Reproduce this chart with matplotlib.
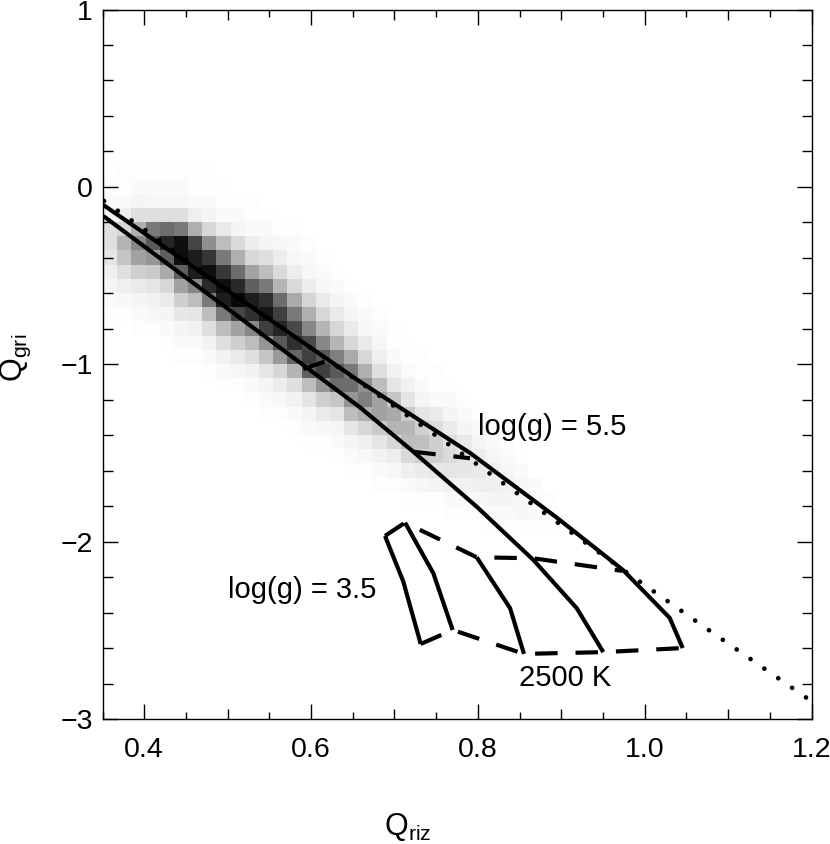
import numpy as np
import matplotlib
matplotlib.use("Agg")
import matplotlib.pyplot as plt

plt.rcParams['font.family'] = ['Liberation Sans', 'DejaVu Sans']
plt.rcParams['mathtext.fontset'] = 'custom'
plt.rcParams['mathtext.rm'] = 'Liberation Sans'

# --- data ---
GRID_SIZE = 50
# density (percent darkness) per column of the 50x50 grid: first row (from top), then values
density_start = [12, 11, 11, 11, 11, 11, 11, 11, 12, 13, 13, 14, 15, 15, 16, 17, 18,
                 19, 20, 21, 22, 23, 24, 25, 26, 27, 28, 29, 30, 31, 33, 34]
density_cols = [
    [1, 2, 4, 12, 12, 10, 6, 4, 2, 1],
    [1, 1, 2, 6, 15, 28, 22, 12, 6, 3, 1],
    [1, 2, 4, 12, 30, 45, 35, 18, 8, 4, 2, 1],
    [1, 2, 3, 12, 50, 62, 40, 20, 10, 5, 3, 1],
    [1, 2, 3, 12, 55, 82, 60, 32, 15, 8, 4, 2, 1],
    [1, 2, 3, 12, 50, 90, 90, 60, 35, 18, 9, 4, 2, 1],
    [1, 1, 2, 6, 30, 70, 85, 85, 45, 25, 10, 5, 2, 1],
    [1, 1, 2, 4, 15, 42, 75, 90, 80, 50, 25, 12, 5, 2, 1],
    [1, 1, 2, 8, 25, 50, 75, 90, 85, 50, 25, 12, 5, 2, 1],
    [1, 2, 4, 14, 30, 55, 80, 92, 70, 35, 18, 8, 3, 1],
    [1, 1, 2, 7, 15, 35, 60, 85, 78, 45, 25, 12, 5, 2, 1],
    [1, 2, 4, 12, 25, 50, 78, 88, 72, 40, 22, 10, 4, 2, 1],
    [1, 3, 7, 14, 28, 55, 72, 82, 62, 38, 15, 7, 3, 1],
    [1, 2, 3, 7, 14, 32, 50, 68, 78, 58, 28, 12, 5, 2, 1],
    [1, 2, 3, 7, 16, 30, 45, 68, 72, 60, 25, 10, 4, 2, 1],
    [1, 2, 3, 8, 15, 28, 45, 62, 72, 40, 18, 8, 3, 1],
    [1, 2, 4, 8, 15, 28, 48, 62, 55, 22, 10, 4, 2, 1],
    [1, 2, 4, 8, 15, 32, 50, 55, 40, 25, 10, 4, 2, 1],
    [1, 2, 3, 8, 15, 30, 42, 48, 30, 15, 6, 3, 1],
    [1, 2, 3, 6, 12, 25, 35, 35, 20, 10, 5, 2, 1],
    [1, 1, 2, 5, 10, 22, 32, 28, 15, 7, 3, 1],
    [1, 1, 2, 5, 10, 20, 28, 25, 14, 6, 2, 1],
    [1, 1, 2, 4, 10, 18, 24, 18, 8, 3, 1],
    [1, 1, 2, 8, 13, 18, 18, 9, 4, 1],
    [1, 2, 4, 8, 12, 14, 10, 5, 2, 1],
    [1, 2, 4, 8, 10, 9, 5, 2, 1],
    [1, 2, 4, 7, 8, 6, 3, 1],
    [1, 2, 4, 6, 6, 4, 2, 1],
    [1, 2, 3, 5, 4, 2, 1],
    [1, 2, 3, 3, 3, 1],
    [2, 2, 2, 1],
    [1, 1, 1],
]

# solid tracks (constant temperature)
track1_x = [0.351, 0.6587, 0.7906, 0.895, 0.974, 1.030, 1.0456]
track1_y = [-0.102, -1.098, -1.50, -1.866, -2.16, -2.43, -2.60]
track2_x = [0.351, 0.6587, 0.7226, 0.7986, 0.8665, 0.9185, 0.9504]
track2_y = [-0.164, -1.243, -1.493, -1.803, -2.103, -2.375, -2.623]
track3_x = [0.7986, 0.8386, 0.8553]
track3_y = [-2.088, -2.375, -2.633]
track4_x = [0.7127, 0.7466, 0.7698]
track4_y = [-1.893, -2.178, -2.498]
track5_x = [0.6887, 0.7106, 0.7315]
track5_y = [-1.968, -2.225, -2.577]

# dashed connectors
dash1_x = [0.6887, 0.7127, 0.7986, 0.8665, 0.9732]
dash1_y = [-1.968, -1.893, -2.088, -2.094, -2.165]
dash2_x = [0.7315, 0.7698, 0.8553, 0.9504, 1.0456]
dash2_y = [-2.577, -2.498, -2.633, -2.623, -2.60]
dash3_x = [0.7226, 0.7906]
dash3_y = [-1.493, -1.530]
dash4_x = [0.5907, 0.6168]
dash4_y = [-1.026, -0.985]

# dotted relation
dot_x = [0.3518, 0.4174, 0.4989, 0.5808, 0.7945, 0.9744, 1.0723, 1.2]
dot_y = [-0.0795, -0.2976, -0.5716, -0.845, -1.549, -2.16, -2.484, -2.90]

x_major = [0.4, 0.6, 0.8, 1.0, 1.2]
x_labels = ['0.4', '0.6', '0.8', '1.0', '1.2']
y_major = [-3, -2, -1, 0, 1]
y_labels = ['\u22123', '\u22122', '\u22121', '0', '1']
x_limits = (0.35, 1.2)
y_limits = (-3, 1)

# --- figure ---
W, H = 830, 844
fig = plt.figure(figsize=(W / 100, H / 100), dpi=100, facecolor='white')
ax = fig.add_axes([102.5 / W, (H - 719) / H, 709 / W, 709.5 / H])

density = np.zeros((GRID_SIZE, GRID_SIZE))
for col, (start, vals) in enumerate(zip(density_start, density_cols)):
    density[start:start + len(vals), col] = vals
ax.imshow(density, extent=[x_limits[0], x_limits[1], y_limits[0], y_limits[1]],
          origin='upper', aspect='auto', cmap='gray_r', vmin=0, vmax=96,
          interpolation='nearest', zorder=0)

LW = 3.0
for xs, ys in [(track1_x, track1_y), (track2_x, track2_y), (track3_x, track3_y),
               (track4_x, track4_y), (track5_x, track5_y)]:
    ax.plot(xs, ys, color='black', lw=LW, solid_joinstyle='miter', solid_capstyle='butt', zorder=3)

for xs, ys in [(dash1_x, dash1_y), (dash2_x, dash2_y), (dash3_x, dash3_y), (dash4_x, dash4_y)]:
    ax.plot(xs, ys, color='black', lw=LW, linestyle=(0, (5.4, 4.3)), dash_capstyle='butt',
            dash_joinstyle='miter', zorder=3)

ax.plot(dot_x, dot_y, color='black', lw=3.4, linestyle=(0, (0.01, 3.56)),
        dash_capstyle='round', zorder=3, clip_on=True)

ax.set_xlim(*x_limits)
ax.set_ylim(*y_limits)

ax.set_xticks(x_major)
ax.set_xticklabels(x_labels)
ax.set_yticks(y_major)
ax.set_yticklabels(y_labels)
ax.set_xticks(np.arange(7, 25) * 0.05, minor=True)
ax.set_yticks(np.arange(-15, 6) * 0.2, minor=True)

ax.tick_params(axis='both', which='major', direction='in', length=10.8, width=1.0,
               top=True, right=True, labelsize=20.5, colors='black')
ax.tick_params(axis='x', which='major', pad=13)
ax.tick_params(axis='y', which='major', pad=7)
ax.tick_params(axis='y', which='minor', direction='in', length=7.2, width=1.0, right=True)
ax.tick_params(axis='x', which='minor', direction='in', length=5.0, width=1.0, top=True)

fig.canvas.draw()
for tick in ax.xaxis.get_minor_ticks():
    loc = tick.get_loc()
    if abs(loc * 10 - round(loc * 10)) < 1e-6:
        tick.tick1line.set_markersize(7.2)
        tick.tick2line.set_markersize(7.2)

for s in ax.spines.values():
    s.set_linewidth(1.0)
    s.set_color('black')

ax.text(0.8, -1.355, 'log(g) = 5.5', fontsize=21, ha='left', va='center')
ax.text(0.5, -2.27, 'log(g) = 3.5', fontsize=21, ha='left', va='center')
ax.text(0.8495, -2.77, '2500 K', fontsize=21, ha='left', va='center')

fig.text(384 / W, (H - 835) / H, r'Q$_{\mathrm{riz}}$', fontsize=22, ha='left', va='baseline')
fig.text(16 / W, (H - 358) / H, r'Q$_{\mathrm{gri}}$', fontsize=22, rotation=90,
         ha='center', va='center')

fig.savefig('out.png', dpi=100)
